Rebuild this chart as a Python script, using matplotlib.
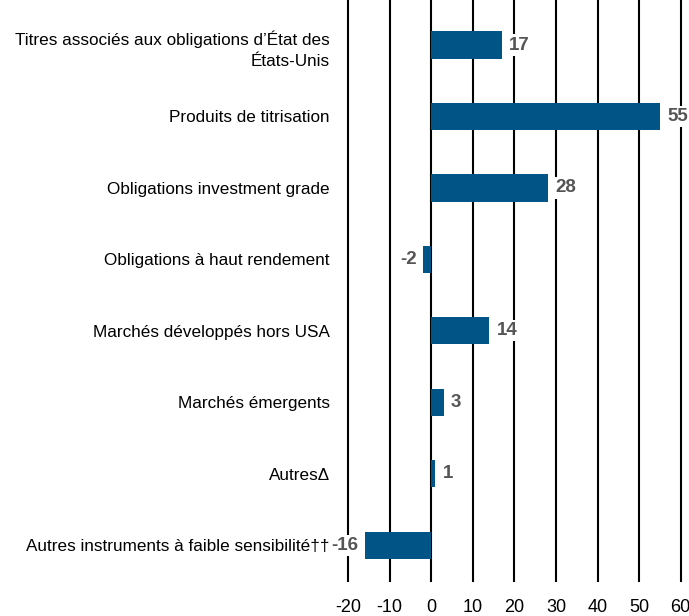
import matplotlib.pyplot as plt

categories = [
    "Titres associés aux obligations d\u2019État des\nÉtats-Unis",
    "Produits de titrisation",
    "Obligations investment grade",
    "Obligations à haut rendement",
    "Marchés développés hors USA",
    "Marchés émergents",
    "Autres\u0394",
    "Autres instruments à faible sensibilité\u2020\u2020",
]
values = [17, 55, 28, -2, 14, 3, 1, -16]
xticks = [-20, -10, 0, 10, 20, 30, 40, 50, 60]

plt.rcParams['font.family'] = ['Liberation Sans', 'DejaVu Sans']

fig = plt.figure(figsize=(6.89, 6.16), dpi=100)
ax = fig.add_axes([0.505, 0.0568, 0.483, 0.9432])

ypos = list(range(len(categories)))
ax.barh(ypos, values, height=0.38, color='#005587', zorder=3)

box = dict(facecolor='white', edgecolor='none', pad=1.5)
for y, v in zip(ypos, values):
    if v >= 0:
        ax.text(v + 1.8, y, str(v), va='center', ha='left', fontsize=13.5,
                fontweight='bold', color='#555555', zorder=4, bbox=box)
    else:
        ax.text(v - 1.5, y, str(v), va='center', ha='right', fontsize=13.5,
                fontweight='bold', color='#555555', zorder=4, bbox=box)

ax.set_xlim(-20, 60)
ax.set_ylim(7.5, -0.63)
ax.set_xticks(xticks)
ax.set_xticklabels([str(t) for t in xticks], fontsize=13)
ax.set_yticks(ypos)
ax.set_yticklabels(categories, fontsize=12.3, linespacing=1.5)
ax.tick_params(axis='both', length=0)
ax.tick_params(axis='x', pad=13)
ax.tick_params(axis='y', pad=13)
ax.grid(axis='x', color='black', linewidth=1.5, zorder=1)
for gl in ax.xaxis.get_gridlines():
    gl.set_clip_on(False)
for s in ax.spines.values():
    s.set_visible(False)

fig.savefig('out.png', dpi=100)
